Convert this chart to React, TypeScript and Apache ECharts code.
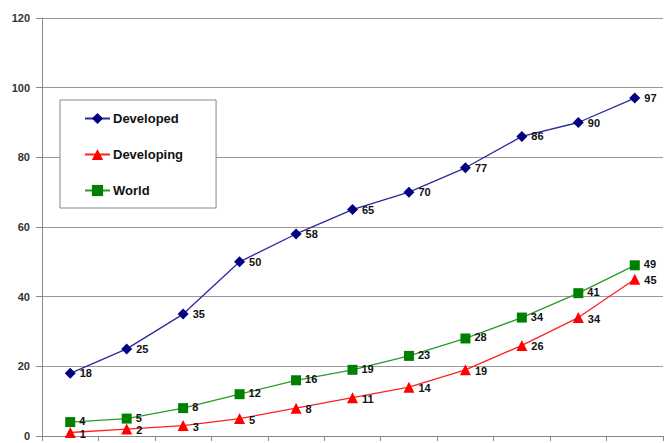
import React, { useEffect, useRef } from "react";
import * as echarts from "echarts";

const categories = ["1", "2", "3", "4", "5", "6", "7", "8", "9", "10", "11"];
const developed = [18, 25, 35, 50, 58, 65, 70, 77, 86, 90, 97];
const developing = [1, 2, 3, 5, 8, 11, 14, 19, 26, 34, 45];
const world = [4, 5, 8, 12, 16, 19, 23, 28, 34, 41, 49];

const FONT = "'Liberation Sans', Arial, sans-serif";

export default function App() {
  const ref = useRef<HTMLDivElement>(null);
  useEffect(() => {
    if (!ref.current) return;
    const chart = echarts.init(ref.current, undefined, { renderer: "svg" });
    const label = {
      show: true,
      position: "right" as const,
      distance: 4,
      fontFamily: FONT,
      fontWeight: "bold" as const,
      fontSize: 11,
      color: "#111",
    };
    chart.setOption({
      animation: false,
      backgroundColor: "#fff",
      grid: { left: 42, right: 1, top: 18, bottom: 7 },
      legend: {
        orient: "vertical",
        left: 60,
        top: 100,
        padding: [12, 33, 11, 24],
        itemGap: 23,
        itemWidth: 25,
        itemHeight: 14,
        borderColor: "#888",
        borderWidth: 1,
        backgroundColor: "#fff",
        textStyle: { fontFamily: FONT, fontWeight: "bold", fontSize: 13, color: "#111", padding: [0, 0, 0, -2] },
        data: ["Developed", "Developing", "World"],
      },
      xAxis: {
        type: "category",
        data: categories,
        boundaryGap: true,
        axisLine: { lineStyle: { color: "#888" } },
        axisTick: { show: true, length: 5, inside: false, lineStyle: { color: "#888" } },
        axisLabel: { show: false },
        splitLine: { show: false },
      },
      yAxis: {
        type: "value",
        min: 0,
        max: 120,
        interval: 20,
        axisLine: { show: true, lineStyle: { color: "#888" } },
        axisTick: { show: true, length: 6, lineStyle: { color: "#888" } },
        axisLabel: {
          margin: 12,
          fontFamily: FONT,
          fontWeight: "bold",
          fontSize: 11,
          color: "#333",
        },
        splitLine: { show: true, lineStyle: { color: "#999", width: 1 } },
      },
      series: [
        {
          name: "Developed",
          type: "line",
          data: developed,
          symbol: "diamond",
          symbolSize: 11,
          itemStyle: { color: "#000080" },
          lineStyle: { color: "#2a2aa0", width: 1.3 },
          label,
        },
        {
          name: "Developing",
          type: "line",
          data: developing,
          symbol: "triangle",
          symbolSize: 11,
          itemStyle: { color: "#ff0000" },
          lineStyle: { color: "#ff2020", width: 1.3 },
          label: { ...label, offset: [0, 1] },
        },
        {
          name: "World",
          type: "line",
          data: world,
          symbol: "rect",
          symbolSize: 10,
          itemStyle: { color: "#008000" },
          lineStyle: { color: "#2a9a2a", width: 1.3 },
          label: { ...label, offset: [0, -1] },
        },
      ],
    });
    return () => chart.dispose();
  }, []);
  return <div ref={ref} style={{ width: 664, height: 443, position: "fixed", left: 0, top: 0 }} />;
}
